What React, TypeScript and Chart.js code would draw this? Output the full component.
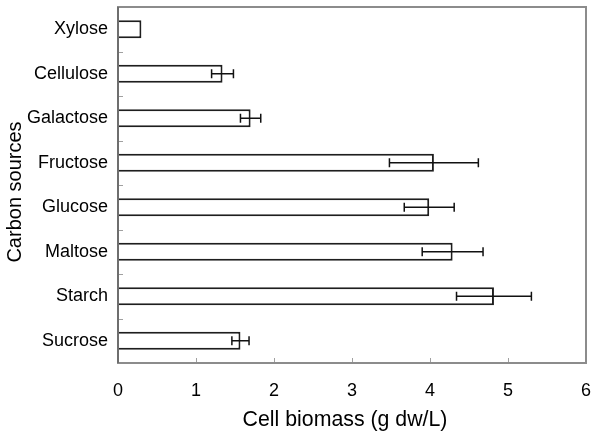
import React, { useEffect, useRef } from "react";
import { Chart, registerables } from "chart.js";

Chart.register(...registerables);

const categories = ["Xylose", "Cellulose", "Galactose", "Fructose", "Glucose", "Maltose", "Starch", "Sucrose"];
const biomass = [0.3, 1.34, 1.7, 4.05, 3.99, 4.29, 4.82, 1.57];
const errors = [0, 0.14, 0.13, 0.57, 0.32, 0.39, 0.48, 0.11];
const xMin = 0;
const xMax = 6;
const xStep = 1;
const xTitle = "Cell biomass (g dw/L)";
const yTitle = "Carbon sources";

const FONT = "'Liberation Sans', Arial, sans-serif";

const framePlugin = {
  id: "framePlugin",
  afterDatasetsDraw(chart: any) {
    const { ctx, chartArea, scales } = chart;
    const xs = scales.x;
    const ys = scales.y;
    ctx.save();
    // error bars
    ctx.strokeStyle = "#111";
    ctx.lineWidth = 1.5;
    biomass.forEach((v, i) => {
      const e = errors[i];
      if (!e) return;
      const y = ys.getPixelForValue(i);
      const x1 = xs.getPixelForValue(v - e);
      const x2 = xs.getPixelForValue(v + e);
      ctx.beginPath();
      ctx.moveTo(x1, y);
      ctx.lineTo(x2, y);
      ctx.moveTo(x1, y - 4.5);
      ctx.lineTo(x1, y + 4.5);
      ctx.moveTo(x2, y - 4.5);
      ctx.lineTo(x2, y + 4.5);
      ctx.stroke();
    });
    // inward ticks
    ctx.strokeStyle = "#a0a0a0";
    ctx.lineWidth = 1;
    for (let v = xMin + xStep; v < xMax; v += xStep) {
      const x = Math.round(xs.getPixelForValue(v)) + 0.5;
      ctx.beginPath();
      ctx.moveTo(x, chartArea.bottom);
      ctx.lineTo(x, chartArea.bottom - 5);
      ctx.stroke();
    }
    for (let i = 1; i < categories.length; i++) {
      const y = Math.round((ys.getPixelForValue(i - 1) + ys.getPixelForValue(i)) / 2) + 0.5;
      ctx.beginPath();
      ctx.moveTo(chartArea.left, y);
      ctx.lineTo(chartArea.left + 5, y);
      ctx.stroke();
    }
    // frame
    ctx.strokeStyle = "#8c8c8c";
    ctx.lineWidth = 2;
    ctx.strokeRect(chartArea.left, chartArea.top, chartArea.right - chartArea.left, chartArea.bottom - chartArea.top);
    ctx.strokeStyle = "#6e6e6e";
    ctx.beginPath();
    ctx.moveTo(chartArea.left, chartArea.top);
    ctx.lineTo(chartArea.left, chartArea.bottom);
    ctx.stroke();
    // axis titles
    ctx.fillStyle = "#000";
    ctx.textAlign = "center";
    ctx.textBaseline = "middle";
    ctx.font = `21.3px ${FONT}`;
    ctx.fillText(xTitle, (chartArea.left + chartArea.right) / 2 - 7, 420);
    ctx.translate(15, (chartArea.top + chartArea.bottom) / 2 + 7);
    ctx.rotate(-Math.PI / 2);
    ctx.font = `20px ${FONT}`;
    ctx.fillText(yTitle, 0, 0);
    ctx.restore();
  },
};

export default function App() {
  const ref = useRef<HTMLCanvasElement | null>(null);
  useEffect(() => {
    if (!ref.current) return;
    const chart = new Chart(ref.current, {
      type: "bar",
      data: {
        labels: categories,
        datasets: [
          {
            data: biomass,
            backgroundColor: "#ffffff",
            borderColor: "#1e1e1e",
            borderWidth: 2,
            barPercentage: 0.41,
            categoryPercentage: 1,
          },
        ],
      },
      options: {
        indexAxis: "y",
        animation: false,
        responsive: false,
        maintainAspectRatio: false,
        layout: { padding: { top: 7, right: 6, left: 0, bottom: 0 } },
        plugins: { legend: { display: false }, tooltip: { enabled: false } },
        scales: {
          x: {
            type: "linear",
            min: xMin,
            max: xMax,
            afterFit: (s: any) => {
              s.height = 71;
              s.paddingLeft = 0;
              s.paddingRight = 0;
              s.paddingTop = 0;
              s.paddingBottom = 0;
            },
            ticks: { stepSize: xStep, color: "#000", font: { family: FONT, size: 18 }, padding: 17 },
            grid: { display: false, drawTicks: false },
            border: { display: false },
            title: { display: false },
          },
          y: {
            type: "category",
            afterFit: (s: any) => {
              s.width = 118;
              s.paddingLeft = 0;
              s.paddingRight = 0;
              s.paddingTop = 0;
              s.paddingBottom = 0;
            },
            ticks: { color: "#000", font: { family: FONT, size: 18 }, padding: 10 },
            grid: { display: false, drawTicks: false },
            border: { display: false },
            title: { display: false },
          },
        },
      },
      plugins: [framePlugin],
    });
    return () => chart.destroy();
  }, []);
  return (
    <div style={{ position: "fixed", left: 0, top: 0, width: 592, height: 434, background: "#fff" }}>
      <canvas ref={ref} width={592} height={434} style={{ width: 592, height: 434 }} />
    </div>
  );
}
